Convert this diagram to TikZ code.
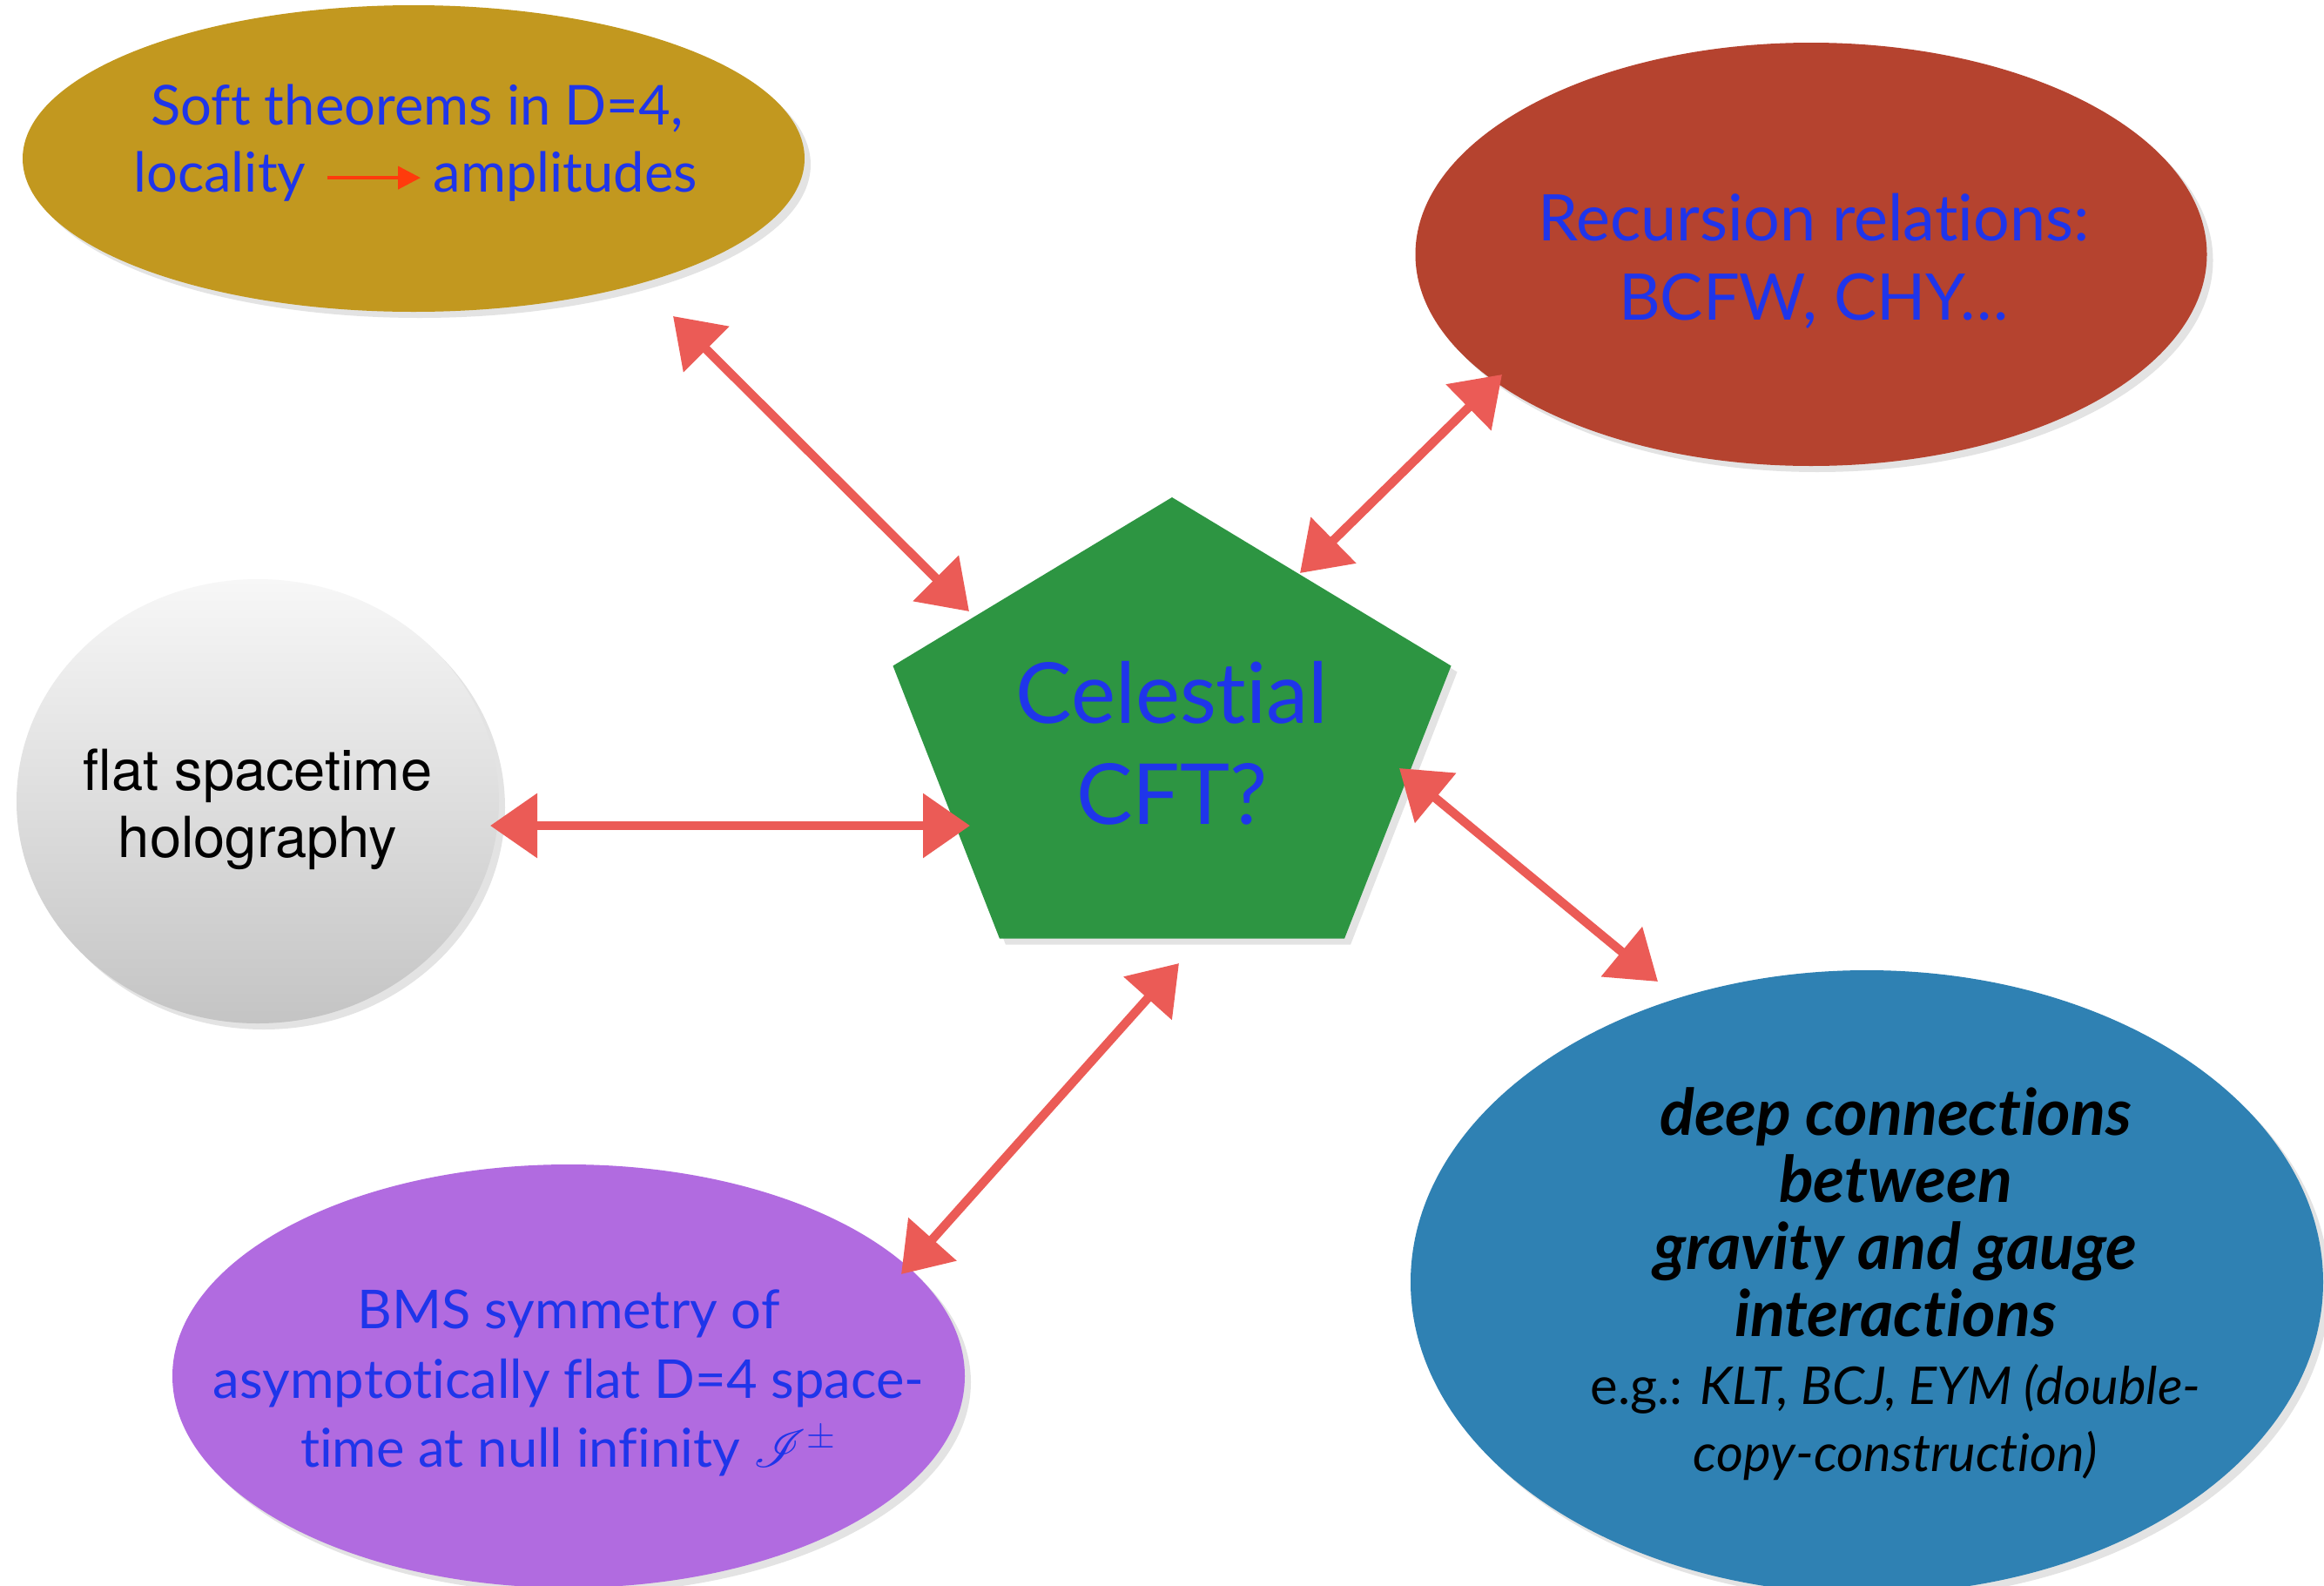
\documentclass[tikz,border=0pt]{standalone}
\usepackage{fontspec}
\usepackage{mathrsfs}
\setmainfont{Lato}[Ligatures=NoCommon]
\newfontfamily\holofont{TeX Gyre Heros}
\usetikzlibrary{arrows.meta,shapes.geometric,shadows}

\begin{document}
\begin{tikzpicture}[
  blob/.style={ellipse,inner sep=0pt,drop shadow={opacity=0.22,shadow xshift=0.7mm,shadow yshift=-0.7mm}},
  bluetext/.style={text=TXTBLUE,font=\fontsize{18}{22.5}\selectfont,align=center},
  twoway/.style={ARROWRED,line width=2.9pt,{Triangle[length=5.4mm,width=7.2mm]}-{Triangle[length=5.4mm,width=7.2mm]}}]
\definecolor{SOFTGOLD}{HTML}{C2981F}
\definecolor{RECRED}{HTML}{B5432F}
\definecolor{CFTGREEN}{HTML}{2D9542}
\definecolor{BMSPURPLE}{HTML}{B16BE0}
\definecolor{DEEPBLUE}{HTML}{2F81B3}
\definecolor{HOLOTOP}{HTML}{F7F7F7}
\definecolor{HOLOBOT}{HTML}{C4C4C4}
\definecolor{TXTBLUE}{HTML}{1F35EA}
\definecolor{ARROWRED}{HTML}{EB5B56}
\definecolor{INLINEARROW}{HTML}{FF3B0C}
\fill[white] (0,0) rectangle (26.69,-18.21);
\useasboundingbox (0,0) rectangle (26.69,-18.21);
% the five topics
\node[blob,fill=SOFTGOLD,minimum width=8.98cm,minimum height=3.52cm] (soft) at (4.75,-1.82) {};
\node[bluetext,inner sep=0pt,anchor=base] (softtop) at (4.79,-1.43) {Soft theorems in D=4,};
\node[bluetext,inner sep=0pt,anchor=base east] (loc) at (3.52,-2.20) {locality};
\node[bluetext,inner sep=0pt,anchor=base west] (amp) at (4.97,-2.20) {amplitudes};
\draw[INLINEARROW,line width=1.2pt,-{Triangle[length=2.6mm,width=2.6mm]},shorten <=2.4mm,shorten >=1.4mm] ([yshift=0.7mm]loc.mid east) -- ([yshift=0.7mm]amp.mid west);
\node[blob,fill=RECRED,minimum width=9.09cm,minimum height=4.86cm] (rec) at (20.80,-2.92) {};
\node[bluetext,font=\fontsize{21}{26}\selectfont] (rectext) at (20.83,-3.00) {Recursion relations:\\BCFW, CHY…};
\node[blob,top color=HOLOTOP,bottom color=HOLOBOT,minimum width=5.54cm,minimum height=5.10cm] (holo) at (2.96,-9.20) {};
\node[align=center,font=\holofont\fontsize{18.5}{22}\selectfont] (holotext) at (2.96,-9.29) {flat spacetime\\holography};
\node[blob,fill=BMSPURPLE,minimum width=9.10cm,minimum height=4.86cm] (bms) at (6.53,-15.80) {};
\node[bluetext,font=\fontsize{17.5}{22.6}\selectfont] (bmstext) at (6.53,-15.88) {BMS symmetry of\\asymptotically flat D=4 space-\\time at null infinity $\mathscr{I}^{\pm}$};
\node[blob,fill=DEEPBLUE,minimum width=10.48cm,minimum height=7.16cm] (deep) at (21.44,-14.72) {};
\node[align=center,font=\fontsize{21}{22}\selectfont\bfseries\itshape] (deeptext) at (21.77,-14.74) {deep connections\\between\\gravity and gauge\\interactions\\\fontsize{17}{22}\selectfont\mdseries\upshape e.g.: \itshape KLT, BCJ, EYM (double-\\\fontsize{17}{22}\selectfont\mdseries copy-construction)};
% centre pentagon
\begin{scope}[shift={(13.46,-8.51)}]
\fill[CFTGREEN,drop shadow={opacity=0.22,shadow xshift=0.7mm,shadow yshift=-0.7mm}] (90:3.37cm and 2.80cm) \foreach \a in {162,234,306,18}{ -- (\a:3.37cm and 2.80cm)} -- cycle;
\end{scope}
\node[bluetext,font=\fontsize{27.5}{33}\selectfont] (cft) at (13.46,-8.53) {Celestial\\CFT?};
% arrow ends
\coordinate (softend) at (7.73,-3.63);
\coordinate (cftsoft) at (11.13,-7.02);
\coordinate (recend) at (17.25,-4.30);
\coordinate (cftrec) at (14.93,-6.58);
\coordinate (holoend) at (5.63,-9.48);
\coordinate (cftholo) at (11.14,-9.48);
\coordinate (deepend) at (19.04,-11.27);
\coordinate (cftdeep) at (16.07,-8.82);
\coordinate (bmsend) at (10.35,-14.63);
\coordinate (cftbms) at (13.54,-11.06);
\foreach \p/\q in {softend/cftsoft,recend/cftrec,holoend/cftholo,deepend/cftdeep,bmsend/cftbms}{\draw[twoway] (\p) -- (\q);}
\end{tikzpicture}
\end{document}
